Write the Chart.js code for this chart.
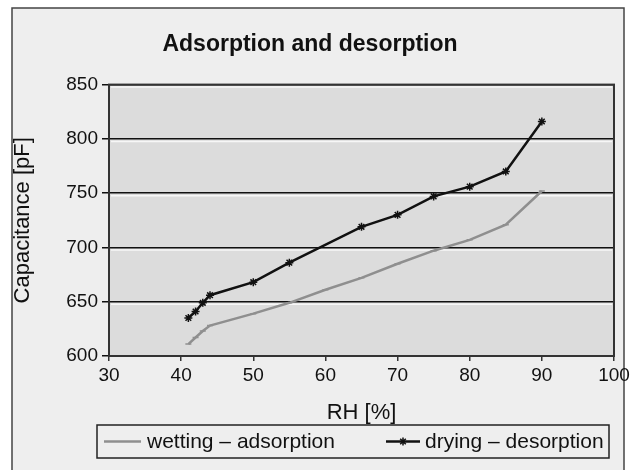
<!DOCTYPE html>
<html>
<head>
<meta charset="utf-8">
<script src="https://cdn.jsdelivr.net/npm/chart.js@4/dist/chart.umd.min.js"></script>
<style>
  html, body { margin: 0; padding: 0; background: #ffffff; }
  #wrap { width: 637px; height: 470px; position: relative; }
</style>
</head>
<body>
<div id="wrap"><canvas id="c" width="637" height="470"></canvas></div>
<script>
// ---- data ----
const wettingRH  = [41, 42, 43, 44, 50, 55, 60, 65, 70, 75, 80, 85, 90];
const wettingCap = [611, 617, 623, 628, 639, 649, 661, 672, 685, 697, 707, 721, 752];
const dryingRH   = [41, 42, 43, 44, 50, 55, 65, 70, 75, 80, 85, 90];
const dryingCap  = [635, 641, 649, 656, 668, 686, 719, 730, 747, 756, 770, 816];
const xTicks = [30, 40, 50, 60, 70, 80, 90, 100];
const yTicks = [600, 650, 700, 750, 800, 850];
const seriesNames = ['wetting \u2013 adsorption', 'drying \u2013 desorption'];
const chartTitle = 'Adsorption and desorption';
const xTitle = 'RH [%]';
const yTitle = 'Capacitance [pF]';

const FONT = '"Liberation Sans", Arial, sans-serif';
const GRAY = '#8f8f8f';
const BLACK = '#111111';

const toPoints = (xs, ys) => xs.map((x, i) => ({ x: x, y: ys[i] }));

const framePlugin = {
  id: 'frame',
  beforeDraw(chart) {
    const ctx = chart.ctx;
    const W = chart.width, H = chart.height;
    ctx.save();
    ctx.fillStyle = '#ffffff';
    ctx.fillRect(0, 0, W, H);
    ctx.fillStyle = '#eeeeee';
    ctx.fillRect(12, 8, 612, H);
    ctx.strokeStyle = '#444';
    ctx.lineWidth = 1.5;
    ctx.strokeRect(12, 8, 612, H + 5);
    const a = chart.chartArea;
    ctx.fillStyle = '#dcdcdc';
    ctx.fillRect(a.left, a.top, a.right - a.left, a.bottom - a.top);
    ctx.restore();
  },
  beforeDatasetsDraw(chart) {
    const ctx = chart.ctx;
    const a = chart.chartArea;
    const ys = chart.scales.y;
    ctx.save();
    ctx.strokeStyle = '#f7f7f7';
    ctx.lineWidth = 1.5;
    yTicks.forEach(v => {
      if (v === 600) return;
      const p = ys.getPixelForValue(v) + 2.5;
      ctx.beginPath();
      ctx.moveTo(a.left + 2, p);
      ctx.lineTo(a.right - 2, p);
      ctx.stroke();
    });
    ctx.strokeStyle = '#333';
    ctx.lineWidth = 2;
    ctx.strokeRect(a.left, a.top, a.right - a.left, a.bottom - a.top);
    ctx.restore();
  },
  afterDraw(chart) {
    // legend
    const ctx = chart.ctx;
    ctx.save();
    const bx = 97, by = 425, bw = 512, bh = 33;
    ctx.fillStyle = '#eeeeee';
    ctx.fillRect(bx, by, bw, bh);
    ctx.strokeStyle = '#222';
    ctx.lineWidth = 1.5;
    ctx.strokeRect(bx, by, bw, bh);
    const cy = by + bh / 2;
    ctx.font = '21px ' + FONT;
    ctx.fillStyle = BLACK;
    ctx.textBaseline = 'middle';
    ctx.textAlign = 'left';
    // item 1
    ctx.strokeStyle = GRAY; ctx.lineWidth = 2.5;
    ctx.beginPath(); ctx.moveTo(104, cy); ctx.lineTo(141, cy); ctx.stroke();
    ctx.fillText(seriesNames[0], 147, cy + 1);
    // item 2
    ctx.strokeStyle = BLACK; ctx.lineWidth = 2.5;
    ctx.beginPath(); ctx.moveTo(386, cy); ctx.lineTo(420, cy); ctx.stroke();
    ctx.lineWidth = 1.5;
    const sx = 403, r = 4;
    ctx.beginPath();
    ctx.moveTo(sx, cy - r); ctx.lineTo(sx, cy + r);
    ctx.moveTo(sx - r * 0.7, cy - r * 0.7); ctx.lineTo(sx + r * 0.7, cy + r * 0.7);
    ctx.moveTo(sx - r * 0.7, cy + r * 0.7); ctx.lineTo(sx + r * 0.7, cy - r * 0.7);
    ctx.stroke();
    ctx.fillText(seriesNames[1], 425, cy + 1);
    ctx.restore();
  }
};

new Chart(document.getElementById('c'), {
  type: 'line',
  data: {
    datasets: [
      {
        label: seriesNames[0],
        data: toPoints(wettingRH, wettingCap),
        borderColor: GRAY,
        backgroundColor: GRAY,
        borderWidth: 2.5,
        pointStyle: 'line',
        pointRadius: 3,
        pointBorderWidth: 1.5,
        tension: 0,
        fill: false
      },
      {
        label: seriesNames[1],
        data: toPoints(dryingRH, dryingCap),
        borderColor: BLACK,
        backgroundColor: BLACK,
        borderWidth: 2.5,
        pointStyle: 'star',
        pointRadius: 4,
        pointBorderWidth: 1.5,
        tension: 0,
        fill: false
      }
    ]
  },
  options: {
    responsive: false,
    animation: false,
    devicePixelRatio: 1,
    layout: { padding: { left: 6, right: 23, top: 8, bottom: 40 } },
    plugins: {
      legend: { display: false },
      tooltip: { enabled: false },
      title: {
        display: true,
        text: chartTitle,
        color: BLACK,
        font: { family: FONT, size: 23, weight: 'bold' },
        padding: { top: 23, bottom: 26 }
      }
    },
    scales: {
      x: {
        type: 'linear',
        min: xTicks[0],
        max: xTicks[xTicks.length - 1],
        afterBuildTicks: s => { s.ticks = xTicks.map(v => ({ value: v })); },
        afterFit: s => { s.height = 74; },
        ticks: { color: BLACK, font: { family: FONT, size: 19 }, padding: 3, maxRotation: 0 },
        grid: { drawOnChartArea: false, drawTicks: true, tickLength: 5, color: '#333', lineWidth: 1.5 },
        border: { display: true, color: '#333', width: 2 },
        title: { display: true, text: xTitle, color: BLACK, font: { family: FONT, size: 22 }, padding: { top: 4, bottom: 4 } }
      },
      y: {
        type: 'linear',
        min: yTicks[0],
        max: yTicks[yTicks.length - 1],
        afterBuildTicks: s => { s.ticks = yTicks.map(v => ({ value: v })); },
        afterFit: s => { s.width = 103; },
        ticks: { color: BLACK, font: { family: FONT, size: 19 }, padding: 4 },
        grid: { color: BLACK, lineWidth: 1.5, tickLength: 7, drawTicks: true },
        border: { display: true, color: '#333', width: 2 },
        title: { display: true, text: yTitle, color: BLACK, font: { family: FONT, size: 22 }, padding: { top: 4, bottom: 4 } }
      }
    }
  },
  plugins: [framePlugin]
});
</script>
</body>
</html>
